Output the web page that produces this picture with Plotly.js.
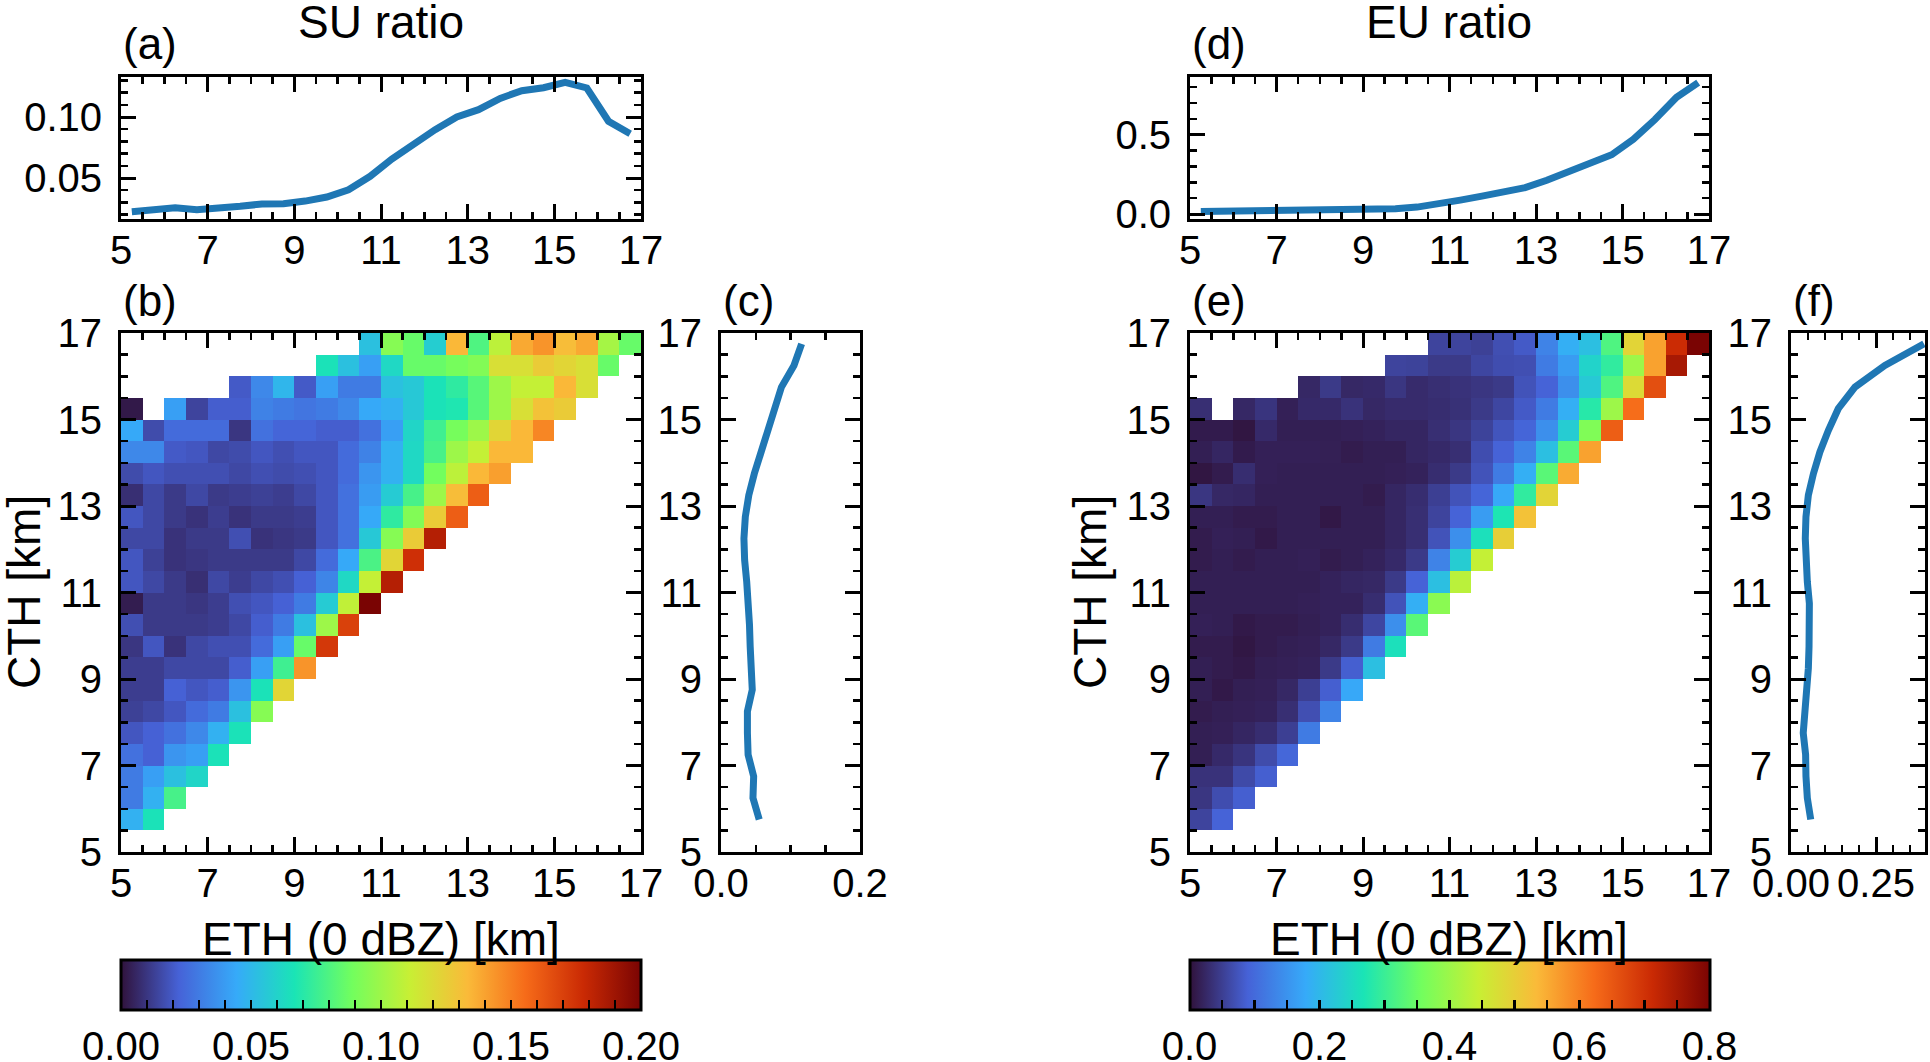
<!DOCTYPE html>
<html>
<head>
<meta charset="utf-8">
<script src="https://cdn.plot.ly/plotly-3.0.1.min.js"></script>
<style>
  html, body { margin: 0; padding: 0; background: #fff; }
  #fig { width: 1930px; height: 1062px; }
</style>
</head>
<body>
<div id="fig"></div>
<script>
// SU / EU ratio as a function of echo-top height (ETH) and cloud-top height (CTH).
// Six panels: marginal profiles (a,c,d,f) and joint ETH–CTH grids (b,e).

// bin centres (km), shared by both axes of the joint grids
const BIN_CENTERS = [5.25, 5.75, 6.25, 6.75, 7.25, 7.75, 8.25, 8.75, 9.25, 9.75, 10.25, 10.75,
  11.25, 11.75, 12.25, 12.75, 13.25, 13.75, 14.25, 14.75, 15.25, 15.75, 16.25, 16.75];
const CTH_PROFILE_Y = BIN_CENTERS.slice(1); // lowest CTH bin is empty

// (a) SU ratio vs ETH
const SU_VS_ETH = [0.0224, 0.024, 0.0257, 0.024, 0.0249, 0.0268, 0.0287, 0.029, 0.0311, 0.0344, 0.0404, 0.0514,
  0.0656, 0.0779, 0.0896, 0.100, 0.106, 0.1153, 0.1216, 0.124, 0.1284, 0.1238, 0.0965, 0.0863];
// (c) SU ratio vs CTH (5.75 .. 16.75)
const SU_VS_CTH = [0.055, 0.046, 0.047, 0.039, 0.038, 0.038, 0.045, 0.0426, 0.042, 0.041, 0.040, 0.037,
  0.034, 0.033, 0.035, 0.040, 0.048, 0.058, 0.068, 0.077, 0.087, 0.105, 0.116];
// (d) EU ratio vs ETH
const EU_VS_ETH = [0.017, 0.019, 0.021, 0.021, 0.023, 0.025, 0.025, 0.027, 0.029, 0.033, 0.044, 0.063,
  0.088, 0.113, 0.138, 0.167, 0.213, 0.268, 0.322, 0.374, 0.471, 0.596, 0.736, 0.828];
// (f) EU ratio vs CTH (5.75 .. 16.75)
const EU_VS_CTH = [0.058, 0.048, 0.044, 0.043, 0.036, 0.041, 0.050, 0.051, 0.053, 0.054, 0.054, 0.048,
  0.044, 0.042, 0.044, 0.051, 0.066, 0.085, 0.110, 0.139, 0.188, 0.276, 0.391];

// (b) SU ratio grid, one row per CTH bin (bottom to top), columns = ETH bins; missing tail = no data
const SU_GRID = [
  [],
  [0.047, 0.066],
  [0.03, 0.047, 0.078],
  [0.03, 0.041, 0.053, 0.061],
  [0.027, 0.022, 0.038, 0.041, 0.066],
  [0.019, 0.022, 0.027, 0.034, 0.047, 0.066],
  [0.013, 0.015, 0.019, 0.025, 0.03, 0.053, 0.094],
  [0.012, 0.012, 0.022, 0.019, 0.021, 0.038, 0.066, 0.122],
  [0.012, 0.012, 0.015, 0.015, 0.015, 0.021, 0.041, 0.076, 0.144],
  [0.01, 0.019, 0.009, 0.015, 0.017, 0.017, 0.025, 0.041, 0.086, 0.173],
  [0.017, 0.011, 0.011, 0.011, 0.012, 0.015, 0.021, 0.03, 0.053, 0.1, 0.17],
  [0.003, 0.011, 0.011, 0.01, 0.012, 0.017, 0.019, 0.022, 0.03, 0.057, 0.109, 0.2],
  [0.019, 0.015, 0.011, 0.008, 0.015, 0.012, 0.015, 0.017, 0.022, 0.033, 0.062, 0.11, 0.184],
  [0.019, 0.013, 0.009, 0.01, 0.011, 0.011, 0.011, 0.011, 0.015, 0.025, 0.044, 0.079, 0.122, 0.176],
  [0.015, 0.015, 0.009, 0.011, 0.011, 0.017, 0.009, 0.01, 0.011, 0.019, 0.027, 0.056, 0.094, 0.126, 0.184],
  [0.019, 0.015, 0.011, 0.009, 0.012, 0.009, 0.011, 0.011, 0.012, 0.019, 0.027, 0.044, 0.072, 0.093, 0.126, 0.16],
  [0.008, 0.015, 0.011, 0.015, 0.011, 0.012, 0.013, 0.012, 0.015, 0.019, 0.027, 0.04, 0.057, 0.078, 0.1, 0.132, 0.16],
  [0.016, 0.019, 0.017, 0.017, 0.017, 0.015, 0.017, 0.016, 0.017, 0.019, 0.025, 0.038, 0.047, 0.062, 0.089, 0.108, 0.134, 0.141],
  [0.034, 0.034, 0.02, 0.019, 0.015, 0.016, 0.019, 0.017, 0.019, 0.019, 0.025, 0.032, 0.047, 0.062, 0.078, 0.1, 0.11, 0.134, 0.134],
  [0.044, 0.016, 0.025, 0.025, 0.025, 0.01, 0.027, 0.023, 0.023, 0.021, 0.021, 0.027, 0.041, 0.061, 0.076, 0.09, 0.1, 0.122, 0.134, 0.148],
  [0.002, null, 0.041, 0.014, 0.021, 0.021, 0.032, 0.03, 0.028, 0.03, 0.034, 0.044, 0.047, 0.056, 0.066, 0.068, 0.082, 0.1, 0.118, 0.13, 0.126],
  [null, null, null, null, null, 0.02, 0.034, 0.049, 0.02, 0.041, 0.03, 0.03, 0.053, 0.056, 0.066, 0.072, 0.082, 0.1, 0.11, 0.11, 0.134, 0.118],
  [null, null, null, null, null, null, null, null, null, 0.066, 0.053, 0.041, 0.062, 0.086, 0.086, 0.09, 0.093, 0.118, 0.118, 0.126, 0.122, 0.118, 0.086],
  [null, null, null, null, null, null, null, null, null, null, null, 0.053, 0.094, 0.086, 0.058, 0.134, 0.08, 0.108, 0.138, 0.144, 0.132, 0.138, 0.102, 0.086],
];

// (e) EU ratio grid, same layout
const EU_GRID = [
  [],
  [0.056, 0.09],
  [0.04, 0.066, 0.085],
  [0.036, 0.036, 0.062, 0.085],
  [0.014, 0.026, 0.038, 0.064, 0.095],
  [0.014, 0.016, 0.022, 0.03, 0.05, 0.12],
  [0.011, 0.014, 0.016, 0.018, 0.032, 0.068, 0.13],
  [0.014, 0.008, 0.014, 0.016, 0.024, 0.05, 0.085, 0.175],
  [0.014, 0.011, 0.008, 0.014, 0.016, 0.018, 0.044, 0.085, 0.21],
  [0.011, 0.011, 0.005, 0.011, 0.014, 0.016, 0.024, 0.044, 0.12, 0.26],
  [0.016, 0.014, 0.008, 0.011, 0.011, 0.014, 0.018, 0.03, 0.058, 0.145, 0.33],
  [0.014, 0.014, 0.014, 0.014, 0.014, 0.016, 0.018, 0.018, 0.03, 0.072, 0.185, 0.38],
  [0.014, 0.014, 0.014, 0.014, 0.014, 0.014, 0.018, 0.022, 0.024, 0.044, 0.09, 0.21, 0.43],
  [0.011, 0.014, 0.011, 0.014, 0.014, 0.016, 0.011, 0.014, 0.018, 0.026, 0.044, 0.13, 0.23, 0.44],
  [0.011, 0.016, 0.014, 0.008, 0.014, 0.014, 0.014, 0.014, 0.014, 0.022, 0.032, 0.072, 0.145, 0.26, 0.5],
  [0.014, 0.014, 0.011, 0.011, 0.014, 0.014, 0.007, 0.014, 0.014, 0.022, 0.032, 0.056, 0.09, 0.16, 0.27, 0.52],
  [0.04, 0.024, 0.022, 0.014, 0.014, 0.014, 0.014, 0.014, 0.011, 0.022, 0.03, 0.05, 0.072, 0.092, 0.175, 0.29, 0.49],
  [0.004, 0.011, 0.03, 0.016, 0.014, 0.014, 0.014, 0.014, 0.014, 0.016, 0.018, 0.03, 0.044, 0.072, 0.12, 0.185, 0.33, 0.55],
  [0.014, 0.022, 0.01, 0.016, 0.016, 0.016, 0.015, 0.011, 0.014, 0.014, 0.022, 0.026, 0.032, 0.066, 0.09, 0.13, 0.21, 0.33, 0.56],
  [0.01, 0.01, 0.004, 0.026, 0.014, 0.014, 0.014, 0.016, 0.018, 0.022, 0.022, 0.032, 0.04, 0.054, 0.074, 0.092, 0.145, 0.23, 0.37, 0.64],
  [0.032, null, 0.024, 0.038, 0.016, 0.026, 0.026, 0.036, 0.024, 0.028, 0.028, 0.03, 0.034, 0.044, 0.058, 0.08, 0.12, 0.185, 0.28, 0.4, 0.62],
  [null, null, null, null, null, 0.024, 0.044, 0.024, 0.026, 0.04, 0.028, 0.032, 0.036, 0.04, 0.044, 0.072, 0.09, 0.145, 0.225, 0.32, 0.48, 0.66],
  [null, null, null, null, null, null, null, null, null, 0.056, 0.054, 0.044, 0.044, 0.058, 0.066, 0.068, 0.12, 0.16, 0.24, 0.29, 0.4, 0.56, 0.75],
  [null, null, null, null, null, null, null, null, null, null, null, 0.056, 0.056, 0.052, 0.068, 0.08, 0.13, 0.185, 0.21, 0.32, 0.49, 0.56, 0.71, 0.8],
];

// matplotlib "turbo", sampled at 10 even stops
const TURBO = ["#30123b", "#4662d7", "#36aaf9", "#1ae4b6", "#72fe5e", "#c8ef34", "#faba39", "#f66b19", "#ca2a04", "#7a0403"]
  .map((c, i, a) => [i / (a.length - 1), c]);

const LINE = "#1f77b4";
const FONT = "Liberation Sans, Arial, Helvetica, sans-serif";
const W = 1930, H = 1062;
const px = (x) => x / W;         // pixel -> paper, horizontal
const py = (y) => 1 - y / H;     // pixel -> paper, vertical (from top)

// pad each row out to the full column count with empty cells
const toMatrix = (rows) => rows.map((r) => BIN_CENTERS.map((_, j) => (j < r.length ? r[j] : null)));

function axis(domain, range, dtick, minor, extra) {
  return {
    domain, range, dtick, tick0: 0, autorange: false,
    showline: true, linecolor: "#000", linewidth: 3, mirror: "allticks",
    ticks: "inside", ticklen: 15, tickwidth: 3, tickcolor: "#000",
    minor: { ticks: "inside", ticklen: 7, tickwidth: 2.5, tickcolor: "#000", dtick: minor, showgrid: false },
    showgrid: false, zeroline: false, fixedrange: true,
    tickfont: { size: 40, color: "#000", family: FONT },
    ticklabelstandoff: 8,
    ...extra,
  };
}
// x axes sit their labels a little closer to the frame
const xaxis = (domain, range, dtick, minor, extra) =>
  axis(domain, range, dtick, minor, { ticklabelstandoff: -6, ...extra });

// colorbar ticks: one per minor step, labels only on the major steps
function colorbar(cx, max, major, minor, fmt) {
  const vals = [];
  for (let k = 0; k <= Math.round(max / minor); k++) vals.push(+(k * minor).toFixed(4));
  const isMajor = (v) => Math.abs(v / major - Math.round(v / major)) < 1e-6;
  return {
    orientation: "h", xref: "paper", yref: "paper",
    x: px(cx), xanchor: "center", y: py(960), yanchor: "top",
    len: 520 / W, lenmode: "fraction", thickness: 50, thicknessmode: "pixels",
    outlinewidth: 3, outlinecolor: "#000", xpad: 0, ypad: 0,
    ticks: "inside", ticklen: 11, tickwidth: 2.5, tickcolor: "#000",
    tickmode: "array", tickvals: vals, ticktext: vals.map((v) => (isMajor(v) ? v.toFixed(fmt) : "")),
    tickfont: { size: 40, color: "#000", family: FONT },
  };
}

const TOP = [py(219), py(77)];
const MID = [py(852), py(333)];
const LEFT_X = [px(121), px(641)];
const RIGHT_X = [px(1190), px(1709)];

const traces = [
  { type: "scatter", mode: "lines", x: BIN_CENTERS, y: SU_VS_ETH, xaxis: "x", yaxis: "y",
    line: { color: LINE, width: 7 }, hoverinfo: "skip" },
  { type: "heatmap", x: BIN_CENTERS, y: BIN_CENTERS, z: toMatrix(SU_GRID), xaxis: "x2", yaxis: "y2",
    colorscale: TURBO, zmin: 0, zmax: 0.2, zsmooth: false, hoverinfo: "skip",
    colorbar: colorbar(381, 0.2, 0.05, 0.01, 2) },
  { type: "scatter", mode: "lines", x: SU_VS_CTH, y: CTH_PROFILE_Y, xaxis: "x3", yaxis: "y3",
    line: { color: LINE, width: 7 }, hoverinfo: "skip" },
  { type: "scatter", mode: "lines", x: BIN_CENTERS, y: EU_VS_ETH, xaxis: "x4", yaxis: "y4",
    line: { color: LINE, width: 7 }, hoverinfo: "skip" },
  { type: "heatmap", x: BIN_CENTERS, y: BIN_CENTERS, z: toMatrix(EU_GRID), xaxis: "x5", yaxis: "y5",
    colorscale: TURBO, zmin: 0, zmax: 0.8, zsmooth: false, hoverinfo: "skip",
    colorbar: colorbar(1449.5, 0.8, 0.2, 0.05, 1) },
  { type: "scatter", mode: "lines", x: EU_VS_CTH, y: CTH_PROFILE_Y, xaxis: "x6", yaxis: "y6",
    line: { color: LINE, width: 7 }, hoverinfo: "skip" },
];

// text placed by its centre unless told otherwise
const label = (x, y, text, size, extra) => ({
  xref: "paper", yref: "paper", x: px(x), y: py(y), text, showarrow: false,
  xanchor: "center", yanchor: "middle",
  font: { size, color: "#000", family: FONT }, ...extra,
});

const layout = {
  width: W, height: H,
  margin: { t: 0, r: 0, b: 0, l: 0, pad: 0, autoexpand: false },
  paper_bgcolor: "#fff", plot_bgcolor: "#fff",
  showlegend: false,
  font: { family: FONT, color: "#000" },
  xaxis: xaxis(LEFT_X, [5, 17], 2, 0.5, { tick0: 5, anchor: "y" }),
  yaxis: axis(TOP, [0.0164, 0.1328], 0.05, 0.01, { tickformat: ".2f", anchor: "x" }),
  xaxis2: xaxis(LEFT_X, [5, 17], 2, 0.5, { tick0: 5, anchor: "y2" }),
  yaxis2: axis(MID, [5, 17], 2, 0.5, { tick0: 5, anchor: "x2" }),
  xaxis3: xaxis([px(721), px(860)], [0, 0.2], 0.2, 0.05, { tickformat: ".1f", anchor: "y3" }),
  yaxis3: axis(MID, [5, 17], 2, 0.5, { tick0: 5, anchor: "x3" }),
  xaxis4: xaxis(RIGHT_X, [5, 17], 2, 0.5, { tick0: 5, anchor: "y4" }),
  yaxis4: axis(TOP, [-0.031, 0.864], 0.5, 0.1, { tickformat: ".1f", anchor: "x4" }),
  xaxis5: xaxis(RIGHT_X, [5, 17], 2, 0.5, { tick0: 5, anchor: "y5" }),
  yaxis5: axis(MID, [5, 17], 2, 0.5, { tick0: 5, anchor: "x5" }),
  xaxis6: xaxis([px(1791), px(1925)], [0, 0.394], 0.25, 0.05, { tickformat: ".2f", anchor: "y6" }),
  yaxis6: axis(MID, [5, 17], 2, 0.5, { tick0: 5, anchor: "x6" }),
  annotations: [
    label(381, 22, "SU ratio", 46),
    label(1449, 22, "EU ratio", 46),
    label(121, 44, "(a)", 44, { xanchor: "left" }),
    label(1190, 44, "(d)", 44, { xanchor: "left" }),
    label(121, 300, "(b)", 44, { xanchor: "left" }),
    label(721, 300, "(c)", 44, { xanchor: "left" }),
    label(1190, 300, "(e)", 44, { xanchor: "left" }),
    label(1791, 300, "(f)", 44, { xanchor: "left" }),
    label(24, 592, "CTH [km]", 46, { textangle: -90 }),
    label(1090, 592, "CTH [km]", 46, { textangle: -90 }),
    label(381, 939, "ETH (0 dBZ) [km]", 46),
    label(1449, 939, "ETH (0 dBZ) [km]", 46),
  ],
};

Plotly.newPlot("fig", traces, layout, { displayModeBar: false, staticPlot: true });
</script>
</body>
</html>
